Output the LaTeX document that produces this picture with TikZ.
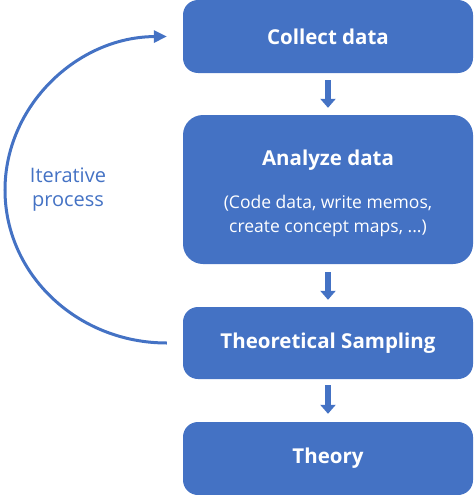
\documentclass[tikz,border=0pt]{standalone}
\usepackage{fontspec}
\setmainfont{Open Sans}
\usetikzlibrary{arrows.meta}
\definecolor{ofblue}{RGB}{68,114,196}
\tikzset{
  box/.style={fill=ofblue, draw=none, rounded corners=15pt, minimum width=290pt,
    text=white, font=\bfseries\fontsize{20.5}{24}\selectfont, align=center, inner sep=0pt},
  downarrow/.style={draw=ofblue, line width=6pt, -{Triangle[width=15pt,length=9pt]}},
  looparrow/.style={draw=ofblue, line width=3pt, -{Triangle[width=12pt,length=13pt]}},
}
\begin{document}
\begin{tikzpicture}[x=1pt,y=-1pt]
\useasboundingbox (0,0) rectangle (474,495);
\node[box, minimum height=73pt] (cd) at (328,36.5) {Collect data};
\node[box, minimum height=149pt, rounded corners=20pt] (ad) at (328,189.5) {};
\node[text=white, font=\bfseries\fontsize{20.5}{24}\selectfont] (adt) at (328,160) {Analyze data};
\node[text=white, font=\fontsize{17.5}{24.5}\selectfont, align=center] (ads) at (328,216) {(Code data, write memos,\\create concept maps, ...)};
\node[box, minimum height=72pt] (ts) at (328,343) {Theoretical Sampling};
\node[box, minimum height=73pt] (th) at (328,458.5) {Theory};
\draw[downarrow] ([yshift=-7pt]cd.south) -- ([yshift=7pt]ad.north);
\draw[downarrow] ([yshift=-8pt]ad.south) -- ([yshift=7pt]ts.north);
\draw[downarrow] ([yshift=-6pt]ts.south) -- ([yshift=8pt]th.north);
\coordinate (s) at ([xshift=-16pt]ts.west);
\coordinate (e) at ([xshift=-16pt]cd.west);
\coordinate (l) at (5,190);
\draw[looparrow] (s) .. controls (77.5,343) and (5,274.5) .. (l)
  .. controls (5,105.5) and (77.5,37) .. (e);
\node[text=ofblue, font=\fontsize{20}{24}\selectfont, align=center] (it) at (68,190) {Iterative\\process};
\end{tikzpicture}
\end{document}
